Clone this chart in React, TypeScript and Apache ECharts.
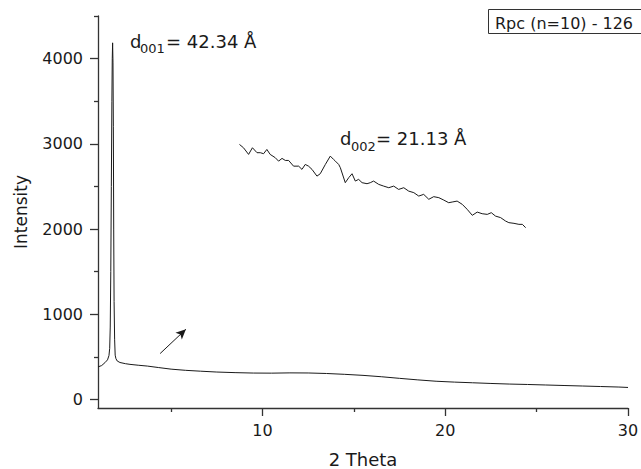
import React, { useEffect, useRef } from "react";
import * as echarts from "echarts";

const scanTheta = [1.0, 1.2, 1.38, 1.52, 1.6, 1.64, 1.67, 1.7, 1.73, 1.76, 1.78, 1.8, 1.82, 1.84, 1.86, 1.88, 1.91, 1.94, 1.98, 2.05, 2.2, 2.5, 2.75, 3.2, 3.7, 4.3, 5.0, 5.8, 6.6, 7.5, 8.5, 9.5, 10.5, 11.5, 12.5, 13.5, 14.5, 15.5, 16.5, 17.5, 18.5, 19.5, 20.5, 21.5, 22.5, 23.5, 24.5, 25.5, 26.5, 27.5, 28.5, 29.5, 30.0];
const scanIntensity = [382, 398, 432, 465, 515, 600, 850, 1500, 2500, 3500, 4000, 4185, 3950, 3200, 2000, 1150, 700, 520, 480, 452, 434, 420, 412, 402, 392, 375, 356, 342, 332, 322, 315, 310, 309, 312, 311, 305, 295, 283, 267, 248, 230, 214, 204, 196, 188, 181, 176, 170, 164, 158, 152, 146, 141];

const insetTheta = [8.74, 8.96, 9.24, 9.45, 9.7, 9.88, 10.06, 10.24, 10.42, 10.7, 10.88, 11.07, 11.25, 11.43, 11.7, 11.98, 12.16, 12.34, 12.52, 12.71, 12.98, 13.16, 13.44, 13.71, 13.89, 13.99, 14.17, 14.26, 14.53, 14.72, 14.9, 15.08, 15.26, 15.45, 15.72, 15.9, 16.08, 16.36, 16.63, 16.91, 17.18, 17.45, 17.73, 18.0, 18.28, 18.55, 18.82, 19.1, 19.37, 19.65, 19.92, 20.19, 20.38, 20.65, 20.93, 21.2, 21.48, 21.75, 22.02, 22.3, 22.52, 22.75, 23.03, 23.3, 23.48, 23.76, 24.03, 24.22, 24.4];
const insetIntensity = [2993, 2954, 2876, 2954, 2896, 2896, 2884, 2934, 2876, 2837, 2797, 2829, 2805, 2805, 2738, 2738, 2700, 2758, 2738, 2700, 2621, 2649, 2758, 2856, 2817, 2797, 2758, 2720, 2544, 2603, 2649, 2563, 2583, 2544, 2532, 2544, 2563, 2524, 2504, 2485, 2504, 2465, 2485, 2445, 2427, 2387, 2407, 2349, 2380, 2368, 2340, 2309, 2317, 2328, 2290, 2231, 2161, 2199, 2180, 2172, 2192, 2152, 2134, 2094, 2075, 2067, 2055, 2055, 2016];

const xMajorTicks = [10, 20, 30];
const xMinorTicks = [5, 15, 25];
const yMajorTicks = [0, 1000, 2000, 3000, 4000];
const yMinorTicks = [500, 1500, 2500, 3500, 4500];

const arrowTail = [4.4, 539];
const arrowHead = [5.81, 824];

const FONT = "DejaVu Sans";
const INK = "#1a1a1a";
const AXIS = "#333333";

export default function App() {
  const ref = useRef<HTMLDivElement>(null);
  useEffect(() => {
    if (!ref.current) return;
    const chart = echarts.init(ref.current, undefined, { renderer: "svg" });
    const scanData = scanTheta.map((t, i) => [t, scanIntensity[i]]);
    const insetData = insetTheta.map((t, i) => [t, insetIntensity[i]]);
    const baseX = { type: "value", min: 1, max: 30, position: "bottom", splitLine: { show: false } };
    const baseY = { type: "value", min: -100, max: 4500, position: "left", splitLine: { show: false } };
    const fmt = (v: number) => String(v);
    chart.setOption({
      animation: false,
      backgroundColor: "#ffffff",
      grid: { left: 98, right: 13, top: 16, bottom: 61, containLabel: false, outerBoundsMode: "none" },
      xAxis: [
        {
          ...baseX,
          name: "2 Theta",
          nameLocation: "middle",
          nameGap: 42,
          nameTextStyle: { fontFamily: FONT, fontSize: 18, color: INK },
          axisLine: { show: true, onZero: false, lineStyle: { color: AXIS, width: 1.3 } },
          axisTick: { show: true, customValues: xMajorTicks, length: 8, lineStyle: { color: AXIS, width: 1.3 } },
          axisLabel: { show: true, customValues: xMajorTicks, margin: 14, formatter: fmt, fontFamily: FONT, fontSize: 16, color: INK },
        },
        {
          ...baseX,
          axisLine: { show: true, onZero: false, lineStyle: { color: AXIS, width: 1.3, opacity: 0 } },
          axisTick: { show: true, customValues: xMinorTicks, length: 4, lineStyle: { color: AXIS, width: 1.3 } },
          axisLabel: { show: false },
        },
      ],
      yAxis: [
        {
          ...baseY,
          name: "Intensity",
          nameLocation: "middle",
          nameGap: 69,
          nameTextStyle: { fontFamily: FONT, fontSize: 17, color: INK },
          axisLine: { show: true, onZero: false, lineStyle: { color: AXIS, width: 1.3 } },
          axisTick: { show: true, customValues: yMajorTicks, length: 8, lineStyle: { color: AXIS, width: 1.3 } },
          axisLabel: { show: true, customValues: yMajorTicks, margin: 15, formatter: fmt, fontFamily: FONT, fontSize: 16, color: INK },
        },
        {
          ...baseY,
          axisLine: { show: true, onZero: false, lineStyle: { color: AXIS, width: 1.3, opacity: 0 } },
          axisTick: { show: true, customValues: yMinorTicks, length: 4, lineStyle: { color: AXIS, width: 1.3 } },
          axisLabel: { show: false },
        },
      ],
      series: [
        {
          type: "line",
          data: scanData,
          showSymbol: false,
          lineStyle: { color: INK, width: 1 },
          silent: true,
          markLine: {
            silent: true,
            symbol: ["none", "arrow"],
            symbolSize: [7, 10],
            label: { show: false },
            lineStyle: { color: INK, width: 1, type: "solid" },
            data: [[{ coord: arrowTail }, { coord: arrowHead }]],
          },
        },
        {
          type: "line",
          data: insetData,
          showSymbol: false,
          lineStyle: { color: INK, width: 1 },
          silent: true,
        },
      ],
      graphic: [
        { type: "text", x: 130, y: 41.4, style: { text: "d", font: `18px "${FONT}"`, fill: INK, verticalAlign: "middle" } },
        { type: "text", x: 140, y: 48.8, style: { text: "001", font: `13px "${FONT}"`, fill: INK, verticalAlign: "middle" } },
        { type: "text", x: 166, y: 41.4, style: { text: "= 42.34 Å", font: `18px "${FONT}"`, fill: INK, verticalAlign: "middle" } },
        { type: "text", x: 340, y: 138.7, style: { text: "d", font: `18px "${FONT}"`, fill: INK, verticalAlign: "middle" } },
        { type: "text", x: 351, y: 146.2, style: { text: "002", font: `13px "${FONT}"`, fill: INK, verticalAlign: "middle" } },
        { type: "text", x: 376, y: 138.7, style: { text: "= 21.13 Å", font: `18px "${FONT}"`, fill: INK, verticalAlign: "middle" } },
        { type: "rect", shape: { x: 488.5, y: 9.5, width: 170, height: 24 }, style: { fill: "#ffffff", stroke: AXIS, lineWidth: 1 } },
        { type: "text", x: 495, y: 23.5, style: { text: "Rpc (n=10) - 126", font: `16px "${FONT}"`, fill: INK, verticalAlign: "middle" } },
      ],
    });
    return () => chart.dispose();
  }, []);
  return <div ref={ref} style={{ position: "absolute", left: 0, top: 0, width: 641, height: 469 }} />;
}
